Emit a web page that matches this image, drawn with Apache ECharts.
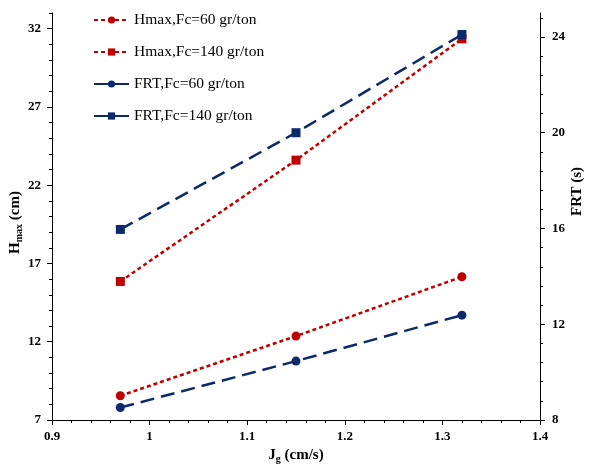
<!DOCTYPE html>
<html>
<head>
<meta charset="utf-8">
<script src="https://cdn.jsdelivr.net/npm/echarts@6/dist/echarts.min.js"></script>
<style>html,body{margin:0;padding:0;background:#fff;}#c{width:592px;height:464px;}</style>
</head>
<body>
<div id="c"></div>
<script>
var jg = [0.97, 1.15, 1.32];
var hmax60 = [8.55, 12.36, 16.15];
var hmax140 = [15.85, 23.6, 31.35];
var frt60 = [8.52, 10.46, 12.38];
var frt140 = [15.96, 20.0, 24.1];
var seriesNames = ['Hmax,Fc=60 gr/ton', 'Hmax,Fc=140 gr/ton', 'FRT,Fc=60 gr/ton', 'FRT,Fc=140 gr/ton'];
var leftMajor = [7, 12, 17, 22, 27, 32];
var rightMajor = [8, 12, 16, 20, 24];
var leftMinor = [];
for (var i = 7; i <= 33; i++) if ((i - 7) % 5 !== 0) leftMinor.push(i);
var rightMinor = [];
for (var k = 0; k <= 21; k++) { if (k % 5 !== 0) rightMinor.push(+(8 + k * 0.8).toFixed(1)); }

var RED = '#C00000', BLUE = '#0B2A6B';
var serif = 'Liberation Serif';
var redDash = [4, 3], blueDash = [14, 7];
function pairs(xs, ys) { return xs.map(function (x, i) { return [x, ys[i]]; }); }

var chart = echarts.init(document.getElementById('c'), null, {renderer: 'canvas'});
var axisLineStyle = {show: true, lineStyle: {color: '#000', width: 1}};
var labelStyle = {fontFamily: serif, fontWeight: 'bold', fontSize: 13, color: '#000'};
chart.setOption({
  animation: false,
  backgroundColor: '#fff',
  grid: {left: 52, right: 52, top: 13, bottom: 44, outerBoundsMode: 'none', containLabel: false},
  legend: {
    orient: 'vertical', left: 88, top: 7, itemGap: 16, itemWidth: 35, itemHeight: 9,
    textStyle: {fontFamily: serif, fontSize: 15.5, color: '#000'},
    data: [
      {name: seriesNames[0], lineStyle: {type: redDash, width: 2}},
      {name: seriesNames[1], lineStyle: {type: redDash, width: 2}},
      {name: seriesNames[2], lineStyle: {type: blueDash, width: 2}},
      {name: seriesNames[3], lineStyle: {type: blueDash, width: 2}}
    ]
  },
  xAxis: {
    type: 'value', min: 0.9, max: 1.4, interval: 0.1,
    name: '{a|J}{b|g}{a| (cm/s)}', nameLocation: 'middle', nameGap: 24,
    nameTextStyle: {rich: {
      a: {fontFamily: serif, fontWeight: 'bold', fontSize: 15, color: '#000'},
      b: {fontFamily: serif, fontWeight: 'bold', fontSize: 10, color: '#000', padding: [8, 0, 0, 0]}
    }},
    axisLine: axisLineStyle,
    axisTick: {show: true, length: 5, lineStyle: {color: '#000'}},
    minorTick: {show: true, splitNumber: 5, length: 3, lineStyle: {color: '#000'}},
    splitLine: {show: false},
    axisLabel: Object.assign({margin: 10}, labelStyle)
  },
  yAxis: [
    {
      type: 'value', position: 'left', min: 7, max: 33, interval: 1,
      name: '{a|H}{b|max}{a| (cm)}', nameLocation: 'middle', nameGap: 28, nameRotate: 90,
      nameMoveOverlap: false,
      nameTextStyle: {padding: [0, 12, 0, 0], rich: {
        a: {fontFamily: serif, fontWeight: 'bold', fontSize: 15, color: '#000'},
        b: {fontFamily: serif, fontWeight: 'bold', fontSize: 10, color: '#000', padding: [8, 0, 0, 0]}
      }},
      axisLine: axisLineStyle,
      axisTick: {show: true, length: 5, customValues: leftMajor, lineStyle: {color: '#000'}},
      splitLine: {show: false},
      axisLabel: Object.assign({margin: 11, customValues: leftMajor}, labelStyle)
    },
    {
      type: 'value', position: 'right', min: 8, max: 25, interval: 1,
      name: 'FRT (s)', nameLocation: 'middle', nameGap: 30, nameRotate: 90,
      nameMoveOverlap: false,
      nameTextStyle: {fontFamily: serif, fontWeight: 'bold', fontSize: 15, color: '#000', padding: [0, 0, 0, 50]},
      axisLine: axisLineStyle,
      axisTick: {show: true, length: 5, customValues: rightMajor, lineStyle: {color: '#000'}},
      splitLine: {show: false},
      axisLabel: Object.assign({margin: 12, customValues: rightMajor}, labelStyle)
    },
    {
      type: 'value', position: 'left', min: 7, max: 33, interval: 1,
      axisLine: {show: false},
      axisTick: {show: true, length: 3, customValues: leftMinor, lineStyle: {color: '#000'}},
      axisLabel: {show: false}, splitLine: {show: false}
    },
    {
      type: 'value', position: 'right', min: 8, max: 25, interval: 1,
      axisLine: {show: false},
      axisTick: {show: true, length: 3, customValues: rightMinor, lineStyle: {color: '#000'}},
      axisLabel: {show: false}, splitLine: {show: false}
    }
  ],
  series: [
    {name: seriesNames[0], type: 'line', yAxisIndex: 0, data: pairs(jg, hmax60),
     symbol: 'circle', symbolSize: 9, color: RED,
     lineStyle: {color: RED, width: 2.5, type: redDash}, itemStyle: {color: RED}},
    {name: seriesNames[1], type: 'line', yAxisIndex: 0, data: pairs(jg, hmax140),
     symbol: 'rect', symbolSize: 9, color: RED,
     lineStyle: {color: RED, width: 2.5, type: redDash}, itemStyle: {color: RED}},
    {name: seriesNames[2], type: 'line', yAxisIndex: 1, data: pairs(jg, frt60),
     symbol: 'circle', symbolSize: 9, color: BLUE,
     lineStyle: {color: BLUE, width: 2.5, type: blueDash}, itemStyle: {color: BLUE}},
    {name: seriesNames[3], type: 'line', yAxisIndex: 1, data: pairs(jg, frt140),
     symbol: 'rect', symbolSize: 9, color: BLUE,
     lineStyle: {color: BLUE, width: 2.5, type: blueDash}, itemStyle: {color: BLUE}}
  ]
});
</script>
</body>
</html>
